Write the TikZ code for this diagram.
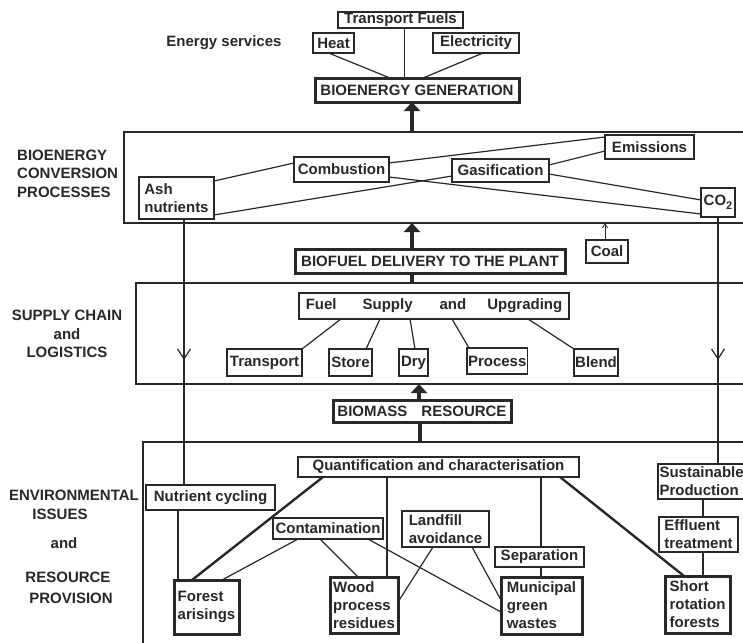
\documentclass[tikz,border=0pt]{standalone}
\usepackage{fontspec}
\setmainfont{Liberation Sans}
\usetikzlibrary{arrows.meta,decorations.markings,calc}
\definecolor{ink}{RGB}{40,40,40}
\newcommand\fs{\fontsize{15}{18}\selectfont\bfseries}
\newcommand\bx[7]{\node[#6,anchor=north west,minimum width={(#4)-(#2)},minimum height={(#5)-(#3)}] (#1) at (#2,#3) {#7};}
\tikzset{
  thinbox/.style={draw=ink,line width=1.3pt,inner xsep=1pt,inner ysep=0pt,outer sep=0pt,text=ink,font=\fs,align=left},
  thickbox/.style={thinbox,line width=3pt},
  medbox/.style={thinbox,line width=2.4pt},
  secbox/.style={draw=ink,line width=2pt,outer sep=0pt,inner sep=0pt},
  con/.style={draw=ink,line width=1.2pt},
  tcon/.style={draw=ink,line width=2.4pt},
  bigarrow/.style={draw=ink,line width=3.5pt,-{Triangle[length=9pt,width=16pt]}},
  bigbar/.style={draw=ink,line width=3.5pt},
  lab/.style={font=\fs,text=ink,inner sep=0pt},
  vmark/.style={postaction={decorate},decoration={markings,mark=at position #1 with {\arrow[ink]{Straight Barb[length=10pt,width=13pt,line width=1.2pt]}}}}
}
\begin{document}
\begin{tikzpicture}[x=1pt,y=-1pt]
\useasboundingbox (0,0) rectangle (743,642);
\clip (0,0) rectangle (743,642);
\fill[white] (0,0) rectangle (743,642);

% section boxes
\node[secbox,anchor=north west,minimum width=640,minimum height=91] (conv) at (124,132) {};
\node[secbox,anchor=north west,minimum width=630,minimum height=101] (sup) at (136,283) {};
\node[secbox,anchor=north west,minimum width=620,minimum height=220] (env) at (143,442) {};

% left labels
\node[lab,anchor=west,align=left,font=\fontsize{15}{18.5}\selectfont\bfseries] (convlab) at (17,173.5) {BIOENERGY\\CONVERSION\\PROCESSES};
\node[lab,align=center,font=\fontsize{15}{18.5}\selectfont\bfseries] (suplab) at (67,334) {SUPPLY CHAIN\\and\\LOGISTICS};
\node[lab] (envlab1) at (74,495) {ENVIRONMENTAL};
\node[lab] (envlab2) at (60,514) {ISSUES};
\node[lab] (envlab3) at (64,543) {and};
\node[lab] (envlab4) at (68,577) {RESOURCE};
\node[lab] (envlab5) at (71,598) {PROVISION};
\node[lab] (es) at (224,43) {Energy services};

% top
\bx{tf}{338}{12}{463}{28}{thinbox}{Transport Fuels}
\bx{heat}{313}{33}{354}{53}{thinbox}{Heat}
\bx{elec}{433}{33}{519}{53}{thinbox}{Electricity}
\bx{gen}{315}{78}{519}{102}{thickbox}{BIOENERGY GENERATION}

% conversion
\bx{ash}{139}{177}{214}{219}{thinbox}{Ash\\nutrients}
\bx{comb}{294}{157}{389}{182}{medbox}{Combustion}
\bx{gas}{452}{159}{549}{182}{medbox}{Gasification}
\bx{emis}{605}{135}{694}{159}{thinbox}{Emissions}
\bx{co2}{701}{188}{735}{217}{thinbox}{CO\raisebox{-3.5pt}{\fontsize{11}{11}\selectfont\bfseries 2}}
\bx{coal}{586}{240}{628}{263}{thinbox}{Coal}
\bx{bf}{295}{249}{565}{273}{thickbox}{BIOFUEL DELIVERY TO THE PLANT}

% supply chain
\bx{fsu}{299}{293}{569}{319}{medbox}{Fuel\hspace{26pt}Supply\hspace{27pt}and\hspace{21pt}Upgrading}
\bx{transport}{227}{349}{302}{376}{thinbox}{Transport}
\bx{store}{329}{349}{372}{376}{thinbox}{Store}
\bx{dry}{399}{349}{428}{376}{thinbox}{Dry}
\bx{process}{467}{348}{527}{374}{thinbox}{Process}
\bx{blend}{574}{349}{618}{376}{thinbox}{Blend}
\bx{bm}{333}{400}{511}{422}{thickbox}{BIOMASS\hspace{14pt}RESOURCE}

% environment
\bx{quant}{298}{457}{579}{477}{medbox}{Quantification and characterisation}
\bx{nut}{146}{485}{275}{510}{thinbox}{Nutrient cycling}
\bx{cont}{273}{518}{383}{539}{thinbox}{Contamination}
\bx{land}{402}{511}{489}{547}{thinbox}{Landfill\\avoidance}
\bx{sep}{495}{547}{584}{567}{thinbox}{Separation}
\bx{sust}{658}{464}{760}{499}{thinbox,text width=99pt}{Sustainable\\Production}
\bx{eff}{659}{517}{738}{552}{thinbox}{Effluent\\treatment}
\bx{forest}{174}{580}{239}{634}{thickbox}{Forest\\arisings}
\bx{wood}{330}{577}{398}{633}{thickbox}{Wood\\process\\residues}
\bx{muni}{501}{577}{582}{634}{thickbox}{Municipal\\green\\wastes}
\bx{short}{665}{576}{730}{633}{thickbox}{Short\\rotation\\forests}

% top connectors
\draw[con] ([xshift=-5pt]heat.south) -- ([xshift=-27pt]gen.north);
\coordinate (t1) at ([xshift=4pt]tf.south);
\draw[con] (t1) -- (t1 |- gen.north);
\draw[con] ([xshift=7pt]elec.south) -- ([xshift=6pt]gen.north);

% main flow arrows
\coordinate (a1) at ([xshift=-5pt]gen.south);
\draw[bigarrow] (a1 |- conv.north) -- (a1);
\coordinate (a2) at ([xshift=-18pt]bf.north);
\draw[bigarrow] (a2) -- (a2 |- conv.south);
\coordinate (a3) at ([xshift=-18pt]bf.south);
\draw[bigbar] (a3 |- sup.north) -- (a3);
\coordinate (a4) at ([xshift=-3pt]bm.north);
\draw[bigarrow] (a4) -- (a4 |- sup.south);
\coordinate (a5) at ([xshift=-2pt]bm.south);
\draw[bigbar] (a5 |- env.north) -- (a5);

% conversion connectors
\draw[con] ([yshift=17pt]ash.east) -- ([yshift=6.5pt]comb.west);
\draw[con] ([yshift=6.5pt]comb.east) -- ([yshift=-2pt]emis.north west);
\draw[con] ([yshift=5.5pt]gas.east) -- ([yshift=-4pt]emis.west);
\draw[con] ([yshift=-17pt]ash.east) -- ([yshift=-5.5pt]gas.west);
\draw[con] ([yshift=-7.5pt]comb.east) -- ([yshift=-11.5pt]co2.west);
\draw[con] ([yshift=-3.5pt]gas.east) -- ([yshift=2.5pt]co2.west);
\coordinate (c1) at ([xshift=-2pt]coal.north);
\draw[con,line width=0.8pt,-{Straight Barb[length=4pt,width=5pt]}] (c1) -- (c1 |- conv.south);

% supply connectors
\draw[con] ([xshift=-93pt]fsu.south) -- (transport.north east);
\draw[con] ([xshift=-54pt]fsu.south) -- ([xshift=15.5pt]store.north);
\draw[con] ([xshift=-24pt]fsu.south) -- ([xshift=1.5pt]dry.north);
\draw[con] ([xshift=18pt]fsu.south) -- ([xshift=2pt]process.north west);
\draw[con] ([xshift=94pt]fsu.south) -- (blend.north west);

% long verticals
\coordinate (n1) at ([xshift=7.5pt]ash.south);
\draw[con,vmark=141pt] (n1) -- (n1 |- nut.north);
\coordinate (s0) at (co2.south);
\draw[con,vmark=143pt] (s0) -- (s0 |- sust.north);

% environment connectors
\coordinate (n2) at ([xshift=-32.5pt]nut.south);
\draw[con] (n2) -- (n2 |- forest.north);
\draw[tcon] ([xshift=-115.5pt]quant.south) -- ([xshift=-14.5pt]forest.north);
\draw[con] ([xshift=-30pt]cont.south) -- ([xshift=15.5pt]forest.north);
\draw[con] ([xshift=-8pt]cont.south) -- ([xshift=-6pt]wood.north);
\draw[con] ([xshift=40pt]cont.south) -- ([yshift=-6.5pt]muni.west);
\coordinate (q1) at ([xshift=-51.5pt]quant.south);
\draw[tcon] (q1) -- (q1 |- wood.north);
\draw[con] ([xshift=-12.5pt]land.south) -- ([yshift=3pt]wood.east);
\draw[con] ([xshift=26.5pt]land.south) -- ([yshift=5.5pt]muni.west);
\coordinate (q2) at ([xshift=1.5pt]sep.north);
\draw[tcon] (q2 |- quant.south) -- (q2);
\coordinate (q3) at ([xshift=1.5pt]sep.south);
\draw[con] (q3) -- (q3 |- muni.north);
\draw[tcon] ([xshift=121.5pt]quant.south) -- ([xshift=-13.5pt]short.north);
\coordinate (s1) at ([xshift=4.5pt]eff.north);
\draw[con] (s1) -- (s1 |- sust.south);
\coordinate (s2) at ([xshift=4.5pt]eff.south);
\draw[con] (s2) -- (s2 |- short.north);
\end{tikzpicture}
\end{document}
